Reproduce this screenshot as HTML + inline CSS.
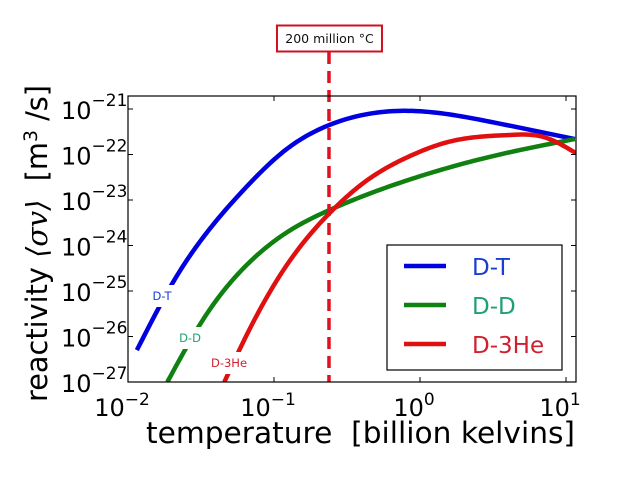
<!DOCTYPE html>
<html><head><meta charset="utf-8"><style>
body{margin:0;background:#fff;}
svg{display:block;font-family:"DejaVu Sans","Liberation Sans",sans-serif;}
</style></head><body>
<svg width="640" height="479" viewBox="0 0 640 479">
<g id="plot"></g>
</svg>
<script>
const xTicks=[-2,-1,0,1];
const yTicks=[-21,-22,-23,-24,-25,-26,-27];
const dtT=[0.0115,0.0214,0.0331,0.0631,0.120,0.240,0.832,3.02,11.5];
const dtV=[-26.3,-24.69,-23.8,-22.75,-21.9,-21.35,-21.04,-21.28,-21.66];
const ddT=[0.0186,0.0331,0.0631,0.120,0.240,0.832,3.02,11.5];
const ddV=[-27,-25.6,-24.47,-23.73,-23.22,-22.56,-22.05,-21.66];
const heT=[0.0457,0.0631,0.120,0.240,0.437,0.832,1.58,4.17,6.92,11.7];
const heV=[-27,-26.05,-24.47,-23.29,-22.56,-22.05,-21.72,-21.57,-21.61,-21.97];
const markT=[0.238];
const L=128,R=576,T=96,B=382;
const X=t=>128+(Math.log10(t)+2)*146;
const Y=v=>109+(-21-v)*45.5;
const XL=l=>128+(l+2)*146;
const NS='http://www.w3.org/2000/svg';
const g=document.getElementById('plot');
function mk(tag,a,p){const e=document.createElementNS(NS,tag);for(const k in a)e.setAttribute(k,a[k]);(p||g).appendChild(e);return e;}
const defs=mk('defs',{});const cp=mk('clipPath',{id:'cp'},defs);mk('rect',{x:L,y:T,width:R-L,height:B-T},cp);
function spline(ts,vs){
 const x=ts.map(t=>Math.log10(t)),y=vs.slice(),n=x.length;
 const h=[],al=[],l=[1],mu=[0],z=[0],c=new Array(n).fill(0),b=[],d=[];
 for(let i=0;i<n-1;i++)h.push(x[i+1]-x[i]);
 for(let i=1;i<n-1;i++)al[i]=3/h[i]*(y[i+1]-y[i])-3/h[i-1]*(y[i]-y[i-1]);
 for(let i=1;i<n-1;i++){l[i]=2*(x[i+1]-x[i-1])-h[i-1]*mu[i-1];mu[i]=h[i]/l[i];z[i]=(al[i]-h[i-1]*z[i-1])/l[i];}
 for(let j=n-2;j>=1;j--){c[j]=z[j]-mu[j]*c[j+1];}
 c[0]=0;
 for(let j=0;j<n-1;j++){b[j]=(y[j+1]-y[j])/h[j]-h[j]*(c[j+1]+2*c[j])/3;d[j]=(c[j+1]-c[j])/(3*h[j]);}
 let pts=[];
 for(let j=0;j<n-1;j++){for(let k=0;k<20;k++){const dx=h[j]*k/20;const v=y[j]+b[j]*dx+c[j]*dx*dx+d[j]*dx*dx*dx;pts.push([X(Math.pow(10,x[j]+dx)),Y(v)]);}}
 pts.push([X(ts[n-1]),Y(vs[n-1])]);
 return 'M'+pts.map(p=>p[0].toFixed(2)+','+p[1].toFixed(2)).join(' L');
}
const series=[[dtT,dtV,'#0000e0','curve-d-t'],[ddT,ddV,'#108010','curve-d-d'],[heT,heV,'#e01010','curve-d-3he']];
series.forEach(s=>{const e=mk('path',{d:spline(s[0],s[1]),fill:'none',stroke:s[2],'stroke-width':4.5,'stroke-linejoin':'round','clip-path':'url(#cp)'});

});
[['D-T',162,296,'#1a3fd0','label-d-t'],['D-D',190,338,'#20a070','label-d-d'],['D-3He',229,363,'#d02030','label-d-3he']].forEach(l=>{
const w=l[0].length*7+8;const r=mk('rect',{x:l[1]-w/2,y:l[2]-11,width:w,height:22,fill:'#fff'});


const t=mk('text',{x:l[1],y:l[2]+4,'text-anchor':'middle','font-size':11.5,fill:l[3]});t.textContent=l[0];

});
markT.forEach(m=>{const e=mk('line',{x1:X(m),x2:X(m),y1:52,y2:B,stroke:'#e01020','stroke-width':3.5,'stroke-dasharray':'12,7'});


const r=mk('rect',{x:X(m)-52,y:25.5,width:105,height:26,fill:'#fff',stroke:'#d01020','stroke-width':2});


const t=mk('text',{x:X(m)+0.5,y:43,'text-anchor':'middle','font-size':12.5,fill:'#111'});t.textContent='200 million °C';

});
const f=mk('rect',{x:L,y:T,width:R-L,height:B-T,fill:'none',stroke:'#000','stroke-width':1.2});


xTicks.forEach(l=>{const x=XL(l);mk('line',{x1:x,x2:x,y1:B,y2:B-5,stroke:'#000'});mk('line',{x1:x,x2:x,y1:T,y2:T+5,stroke:'#000'});
const t=mk('text',{x:x-6,y:416,'text-anchor':'middle','font-size':24,fill:'#000'});t.textContent='10';
const s=mk('tspan',{dy:-11,'font-size':17},t);s.textContent=l<0?'\u2212'+(-l):''+l;

});
yTicks.forEach(v=>{const y=Y(v);mk('line',{x1:L,x2:L+5,y1:y,y2:y,stroke:'#000'});mk('line',{x1:R,x2:R-5,y1:y,y2:y,stroke:'#000'});
const t=mk('text',{x:61,y:y+10,'font-size':24,fill:'#000'});t.textContent='10';
const s=mk('tspan',{dy:-13,'font-size':17},t);s.textContent='\u2212'+(-v);

});
const lg=mk('rect',{x:387,y:245,width:175,height:125,fill:'#fff',stroke:'#000','stroke-width':1.2});


[['D-T','#0000e0','#1a3fd0',266],['D-D','#108010','#20a070',305],['D-3He','#e01010','#d02030',344]].forEach(e=>{
mk('line',{x1:404,x2:446,y1:e[3],y2:e[3],stroke:e[1],'stroke-width':4.5});
const t=mk('text',{x:472,y:e[3]+9,'font-size':23,fill:e[2]});t.textContent=e[0];

});
</script>
<svg style="position:absolute;left:0;top:0" width="640" height="479">
<text x="146" y="443" font-size="29" textLength="429" lengthAdjust="spacingAndGlyphs" xml:space="preserve" font-family="DejaVu Sans, sans-serif">temperature  [billion kelvins]</text>
<text transform="translate(47,402) rotate(-90)" font-size="29" textLength="317" lengthAdjust="spacingAndGlyphs" xml:space="preserve" font-family="DejaVu Sans, sans-serif">reactivity <tspan font-family="DejaVu Serif, serif" font-style="italic">⟨σv⟩</tspan>  [m<tspan dy="-10" font-size="19">3</tspan><tspan dy="10"> /s]</tspan></text>
</svg>
</body></html>
